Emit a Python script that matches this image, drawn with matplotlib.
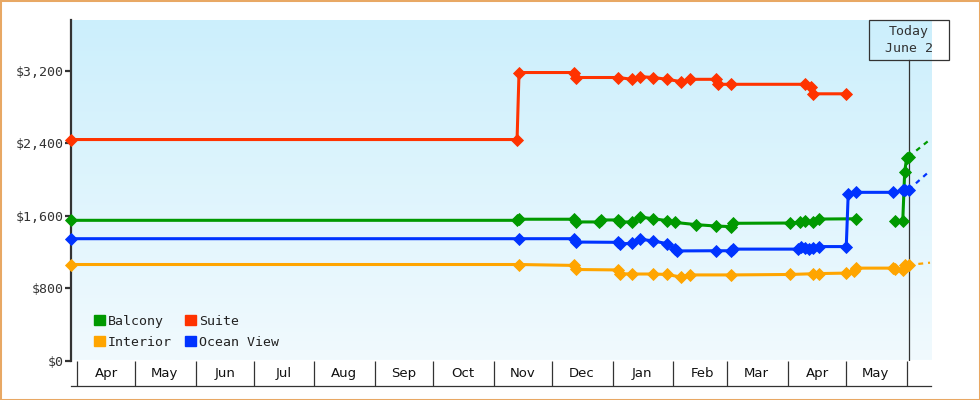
import matplotlib
matplotlib.use('Agg')
import matplotlib.pyplot as plt
import matplotlib.dates as mdates
import matplotlib.transforms as mtransforms
from matplotlib.patches import Patch, Rectangle
from matplotlib.ticker import FuncFormatter
import numpy as np

# price history per cabin type (nan = no data, breaks the line)
balcony_dates = ['2018-03-29', '2018-11-13', '2018-11-14', '2018-12-12', '2018-12-13', '2018-12-25',
                 '2018-12-26', '2019-01-04', '2019-01-05', '2019-01-11', '2019-01-15', '2019-01-22',
                 '2019-01-29', '2019-02-02', '2019-02-13', '2019-02-23', '2019-03-03', '2019-03-04',
                 '2019-04-02', '2019-04-07', '2019-04-10', '2019-04-14', '2019-04-17', '2019-05-06',
                 '2019-05-15', '2019-05-26', '2019-05-30', '2019-05-31', '2019-06-01', '2019-06-02']
balcony_prices = [1548, 1548, 1560, 1560, 1530, 1530,
                  1552, 1552, 1530, 1530, 1585, 1565,
                  1545, 1525, 1500, 1485, 1478, 1515,
                  1518, 1528, 1535, 1530, 1562, 1565,
                  np.nan, 1540, 1540, 2085, 2235, 2250]

interior_dates = ['2018-03-29', '2018-11-14', '2018-12-12', '2018-12-13', '2019-01-04', '2019-01-05',
                  '2019-01-11', '2019-01-22', '2019-01-29', '2019-02-05', '2019-02-10', '2019-03-03',
                  '2019-04-02', '2019-04-14', '2019-04-17', '2019-05-01', '2019-05-05', '2019-05-06',
                  '2019-05-25', '2019-05-26', '2019-05-30', '2019-05-31', '2019-06-02']
interior_prices = [1060, 1060, 1050, 1005, 1000, 958,
                   955, 955, 950, 922, 945, 945,
                   950, 958, 960, 965, 990, 1020,
                   1020, 1005, 1000, 1050, 1055]

suite_dates = ['2018-03-29', '2018-11-13', '2018-11-14', '2018-12-12', '2018-12-13', '2019-01-04',
               '2019-01-11', '2019-01-15', '2019-01-22', '2019-01-29', '2019-02-05', '2019-02-10',
               '2019-02-23', '2019-02-24', '2019-03-03', '2019-04-10', '2019-04-13', '2019-04-14',
               '2019-05-01']
suite_prices = [2440, 2440, 3180, 3180, 3125, 3125,
                3105, 3135, 3125, 3105, 3080, 3105,
                3105, 3050, 3050, 3050, 3015, 2945,
                2945]

ocean_dates = ['2018-03-29', '2018-11-14', '2018-12-12', '2018-12-13', '2019-01-04', '2019-01-05',
               '2019-01-11', '2019-01-15', '2019-01-22', '2019-01-29', '2019-02-02', '2019-02-03',
               '2019-02-23', '2019-03-03', '2019-03-04', '2019-04-06', '2019-04-08', '2019-04-10',
               '2019-04-12', '2019-04-14', '2019-04-17', '2019-05-01', '2019-05-02', '2019-05-06',
               '2019-05-25', '2019-05-28', '2019-05-30', '2019-05-31', '2019-06-02']
ocean_prices = [1345, 1345, 1345, 1308, 1305, 1290,
                1292, 1340, 1320, 1290, 1235, 1210,
                1212, 1212, 1230, 1230, 1258, 1245,
                1235, 1245, 1258, 1258, 1840, 1857,
                1857, np.nan, 1880, 1883, 1885]

# projected prices after today
proj_dates = ['2019-06-02', '2019-06-13']
balcony_proj = [2250, 2440]
interior_proj = [1055, 1080]
ocean_proj = [1885, 2095]

today = '2019-06-02'
today_label = 'Today\nJune 2'

green = '#009900'
orange = '#FFA500'
red = '#FF3300'
blue = '#0033FF'
dark = '#333333'
mono = 'DejaVu Sans Mono'

fig = plt.figure(figsize=(9.8, 4), dpi=100)
ax = fig.add_axes([71 / 980, 39.5 / 400, 860 / 980, 340.5 / 400])

# background gradient
grad = np.linspace(0, 1, 256).reshape(-1, 1)
top = np.array([204, 239, 252]) / 255
bot = np.array([241, 250, 254]) / 255
img = top + (bot - top) * grad[:, :, None]
ax.imshow(img, extent=[0, 1, 0, 1], transform=ax.transAxes, aspect='auto', zorder=0)

d = lambda lst: np.array(lst, dtype='datetime64[D]')

series = [
    ('Balcony', balcony_dates, balcony_prices, green, balcony_proj),
    ('Interior', interior_dates, interior_prices, orange, interior_proj),
    ('Suite', suite_dates, suite_prices, red, None),
    ('Ocean View', ocean_dates, ocean_prices, blue, ocean_proj),
]
for name, dts, prices, col, proj in series:
    ax.plot(d(dts), prices, color=col, lw=2.2, marker='D', ms=6.5, mew=0.6, mec=col,
            zorder=3, clip_on=False)
    if proj is not None:
        ax.plot(d(proj_dates), proj, color=col, lw=1.6, ls=(0, (2.2, 2.2)), zorder=2)

# today marker line + box
ax.axvline(np.datetime64(today), ymin=0, ymax=1 - 40 / 340.5, color=dark, lw=0.9, zorder=2)
trans = mtransforms.blended_transform_factory(ax.transData, ax.transAxes)
tnum = mdates.date2num(np.datetime64(today))
ax.add_patch(Rectangle((tnum - 20.5, 1 - 40 / 340.5), 41, 40 / 340.5, transform=trans,
                       fill=False, edgecolor=dark, lw=0.9, clip_on=False, zorder=5))
ax.text(tnum, 1 - 20 / 340.5, today_label, transform=trans, ha='center', va='center',
        family=mono, fontsize=9.5, color=dark, linespacing=1.35, zorder=5)

ax.set_xlim(np.datetime64('2018-03-29T00:00'), np.datetime64('2019-06-13T12:00'))
ax.set_ylim(0, 3760)

# y axis
ax.set_yticks([0, 800, 1600, 2400, 3200])
ax.yaxis.set_major_formatter(FuncFormatter(lambda v, p: '${:,.0f}'.format(v)))
ax.tick_params(axis='y', direction='out', length=4, width=1.6, color=dark, pad=1,
               labelsize=9.5, labelcolor=dark)
for lab in ax.get_yticklabels():
    lab.set_family(mono)

# x axis: month boxes under the plot
ax.xaxis.set_major_locator(mdates.MonthLocator())
ax.xaxis.set_major_formatter(plt.NullFormatter())
ax.xaxis.set_minor_locator(mdates.MonthLocator(bymonthday=16))
ax.xaxis.set_minor_formatter(mdates.DateFormatter('%b'))
ax.tick_params(axis='x', which='major', direction='in', length=18, width=0.9, color=dark)
ax.tick_params(axis='x', which='minor', length=0, pad=-13.5, labelsize=9.5, labelcolor='#111111')
for lab in ax.get_xticklabels(minor=True):
    lab.set_family(mono)

ax.spines['bottom'].set_position(('outward', 18))
ax.spines['bottom'].set_color(dark)
ax.spines['bottom'].set_linewidth(0.9)
ax.spines['left'].set_color(dark)
ax.spines['left'].set_linewidth(1.6)
ax.spines['top'].set_visible(False)
ax.spines['right'].set_visible(False)

handles = [Patch(color=green, label='Balcony'), Patch(color=orange, label='Interior'),
           Patch(color=red, label='Suite'), Patch(color=blue, label='Ocean View')]
ax.legend(handles=handles, ncol=2, loc='lower left', bbox_to_anchor=(0.013, 0.0), frameon=False,
          prop={'family': mono, 'size': 9.5}, handlelength=0.8, handleheight=0.8,
          handletextpad=0.25, columnspacing=1.0, labelspacing=0.6, labelcolor='#222222')

fig.patches.append(Rectangle((0, 0), 1, 1, transform=fig.transFigure, fill=False,
                             edgecolor='#E8A864', lw=2.2))

fig.savefig('out.png', dpi=100)
